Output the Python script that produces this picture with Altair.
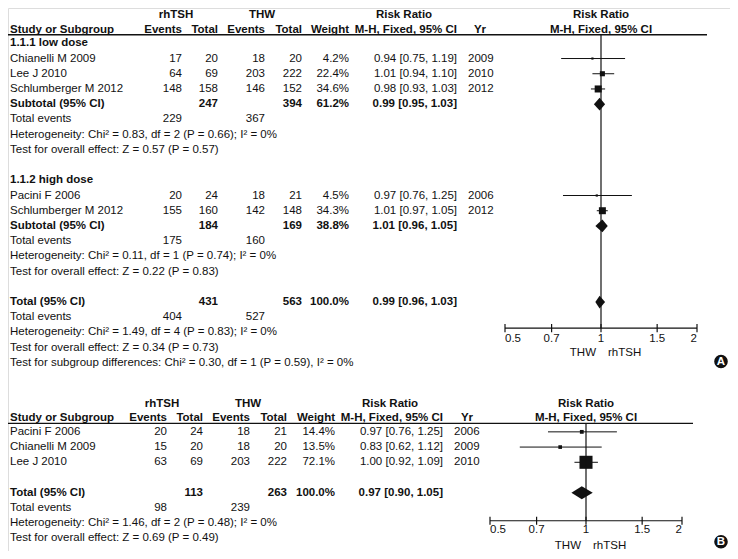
import altair as alt
import pandas as pd

FONT = "Liberation Sans"
FS = 11.5
INK = "#111111"

# ---------------- data: panel A ----------------
a_groups = ["1.1.1 low dose", "1.1.2 high dose"]
a_study = ["Chianelli M 2009", "Lee J 2010", "Schlumberger M 2012", "Pacini F 2006", "Schlumberger M 2012"]
a_ev_rh = [17, 64, 148, 20, 155]
a_tot_rh = [20, 69, 158, 24, 160]
a_ev_thw = [18, 203, 146, 18, 142]
a_tot_thw = [20, 222, 152, 21, 148]
a_weight = [4.2, 22.4, 34.6, 4.5, 34.3]
a_rr = [0.94, 1.01, 0.98, 0.97, 1.01]
a_lo = [0.75, 0.94, 0.93, 0.76, 0.97]
a_hi = [1.19, 1.10, 1.03, 1.25, 1.05]
a_year = [2009, 2010, 2012, 2006, 2012]

a_sum_label = ["Subtotal (95% CI)", "Subtotal (95% CI)", "Total (95% CI)"]
a_sum_tot_rh = [247, 184, 431]
a_sum_tot_thw = [394, 169, 563]
a_sum_weight = [61.2, 38.8, 100.0]
a_sum_rr = [0.99, 1.01, 0.99]
a_sum_lo = [0.95, 0.96, 0.96]
a_sum_hi = [1.03, 1.05, 1.03]
a_sum_ev_rh = [229, 175, 404]
a_sum_ev_thw = [367, 160, 527]
a_het = ["Heterogeneity: Chi\u00b2 = 0.83, df = 2 (P = 0.66); I\u00b2 = 0%",
         "Heterogeneity: Chi\u00b2 = 0.11, df = 1 (P = 0.74); I\u00b2 = 0%",
         "Heterogeneity: Chi\u00b2 = 1.49, df = 4 (P = 0.83); I\u00b2 = 0%"]
a_effect = ["Test for overall effect: Z = 0.57 (P = 0.57)",
            "Test for overall effect: Z = 0.22 (P = 0.83)",
            "Test for overall effect: Z = 0.34 (P = 0.73)"]
a_subgroup_test = "Test for subgroup differences: Chi\u00b2 = 0.30, df = 1 (P = 0.59), I\u00b2 = 0%"

# ---------------- data: panel B ----------------
b_study = ["Pacini F 2006", "Chianelli M 2009", "Lee J 2010"]
b_ev_rh = [20, 15, 63]
b_tot_rh = [24, 20, 69]
b_ev_thw = [18, 18, 203]
b_tot_thw = [21, 20, 222]
b_weight = [14.4, 13.5, 72.1]
b_rr = [0.97, 0.83, 1.00]
b_lo = [0.76, 0.62, 0.92]
b_hi = [1.25, 1.12, 1.09]
b_year = [2006, 2009, 2010]

b_sum_label = ["Total (95% CI)"]
b_sum_tot_rh = [113]
b_sum_tot_thw = [263]
b_sum_weight = [100.0]
b_sum_rr = [0.97]
b_sum_lo = [0.90]
b_sum_hi = [1.05]
b_sum_ev_rh = [98]
b_sum_ev_thw = [239]
b_het = ["Heterogeneity: Chi\u00b2 = 1.46, df = 2 (P = 0.48); I\u00b2 = 0%"]
b_effect = ["Test for overall effect: Z = 0.69 (P = 0.49)"]

axis_ticks = [0.5, 0.7, 1, 1.5, 2]
axis_tick_labels = ["0.5", "0.7", "1", "1.5", "2"]

# ---------------- layout ----------------
W, H = 722, 543
yscale = alt.Scale(domain=[-1.86, 33.03], range=[7, 538], zero=False, nice=False)

PANELS = {
    "A": dict(
        off=0.0, xr=[497, 689], rule_x2=699,
        c=dict(name=2, rh_c=168, thw_c=254, ev_rh=174, tot_rh=210, ev_thw=257,
               tot_thw=294, wt=341, rr_c=396, rr=449, yr_c=472, yr=460),
        study_rows=[1, 2, 3, 10, 11], group_rows=[0, 9], sum_rows=[4, 12, 17],
        axis_row=18.71, lab_row=19.45, side_row=20.33, badge_row=20.91, letter="A",
        study=a_study, ev_rh=a_ev_rh, tot_rh=a_tot_rh, ev_thw=a_ev_thw, tot_thw=a_tot_thw,
        weight=a_weight, rr=a_rr, lo=a_lo, hi=a_hi, year=a_year,
        sum_label=a_sum_label, sum_tot_rh=a_sum_tot_rh, sum_tot_thw=a_sum_tot_thw,
        sum_weight=a_sum_weight, sum_rr=a_sum_rr, sum_lo=a_sum_lo, sum_hi=a_sum_hi,
        sum_ev_rh=a_sum_ev_rh, sum_ev_thw=a_sum_ev_thw, het=a_het, effect=a_effect,
        groups=a_groups,
    ),
    "B": dict(
        off=25.53, xr=[482, 674], rule_x2=685,
        c=dict(name=2, rh_c=154, thw_c=240, ev_rh=159, tot_rh=195, ev_thw=242,
               tot_thw=279, wt=327, rr_c=382, rr=435, yr_c=459, yr=446),
        study_rows=[0, 1, 2], group_rows=[], sum_rows=[4],
        axis_row=31.37 - 25.53, lab_row=32.0 - 25.53, side_row=33.01 - 25.53,
        badge_row=32.75 - 25.53, letter="B",
        study=b_study, ev_rh=b_ev_rh, tot_rh=b_tot_rh, ev_thw=b_ev_thw, tot_thw=b_tot_thw,
        weight=b_weight, rr=b_rr, lo=b_lo, hi=b_hi, year=b_year,
        sum_label=b_sum_label, sum_tot_rh=b_sum_tot_rh, sum_tot_thw=b_sum_tot_thw,
        sum_weight=b_sum_weight, sum_rr=b_sum_rr, sum_lo=b_sum_lo, sum_hi=b_sum_hi,
        sum_ev_rh=b_sum_ev_rh, sum_ev_thw=b_sum_ev_thw, het=b_het, effect=b_effect,
        groups=[],
    ),
}

HDR1, HDR2, RULE = -1.86, -0.90, -0.56


def rrtxt(r, l, h):
    return f"{r:.2f} [{l:.2f}, {h:.2f}]"


texts = []


def add(text, row, x, align, bold=False):
    texts.append(dict(text=str(text), row=row, x=x, align=align, bold=bold))


layers = []

for key, p in PANELS.items():
    o = p["off"]
    c = p["c"]
    # headers
    add("rhTSH", o + HDR1, c["rh_c"], "center", True)
    add("THW", o + HDR1, c["thw_c"], "center", True)
    add("Risk Ratio", o + HDR1, c["rr_c"], "center", True)
    add("Study or Subgroup", o + HDR2, c["name"], "left", True)
    add("Events", o + HDR2, c["ev_rh"], "right", True)
    add("Total", o + HDR2, c["tot_rh"], "right", True)
    add("Events", o + HDR2, c["ev_thw"], "right", True)
    add("Total", o + HDR2, c["tot_thw"], "right", True)
    add("Weight", o + HDR2, c["wt"], "right", True)
    add("M-H, Fixed, 95% CI", o + HDR2, c["rr"], "right", True)
    add("Yr", o + HDR2, c["yr_c"], "center", True)
    for g, r in zip(p["groups"], p["group_rows"]):
        add(g, o + r, c["name"], "left", True)
    for i, r in enumerate(p["study_rows"]):
        rr = o + r
        add(p["study"][i], rr, c["name"], "left")
        add(p["ev_rh"][i], rr, c["ev_rh"], "right")
        add(p["tot_rh"][i], rr, c["tot_rh"], "right")
        add(p["ev_thw"][i], rr, c["ev_thw"], "right")
        add(p["tot_thw"][i], rr, c["tot_thw"], "right")
        add(f"{p['weight'][i]:.1f}%", rr, c["wt"], "right")
        add(rrtxt(p["rr"][i], p["lo"][i], p["hi"][i]), rr, c["rr"], "right")
        add(p["year"][i], rr, c["yr"], "left")
    for i, r in enumerate(p["sum_rows"]):
        rr = o + r
        add(p["sum_label"][i], rr, c["name"], "left", True)
        add(p["sum_tot_rh"][i], rr, c["tot_rh"], "right", True)
        add(p["sum_tot_thw"][i], rr, c["tot_thw"], "right", True)
        add(f"{p['sum_weight'][i]:.1f}%", rr, c["wt"], "right", True)
        add(rrtxt(p["sum_rr"][i], p["sum_lo"][i], p["sum_hi"][i]), rr, c["rr"], "right", True)
        add("Total events", rr + 1, c["name"], "left")
        add(p["sum_ev_rh"][i], rr + 1, c["ev_rh"], "right")
        add(p["sum_ev_thw"][i], rr + 1, c["ev_thw"], "right")
        add(p["het"][i], rr + 2, c["name"], "left")
        add(p["effect"][i], rr + 3, c["name"], "left")
    if key == "A":
        add(a_subgroup_test, o + 21, c["name"], "left")

    # ---- forest part ----
    xs = alt.Scale(type="log", domain=[0.5, 2], range=p["xr"], nice=False)
    st = pd.DataFrame(dict(est=p["rr"], lo=p["lo"], hi=p["hi"], weight=p["weight"],
                           row=[o + r for r in p["study_rows"]]))
    Y = alt.Y("row:Q", scale=yscale, axis=None)
    layers.append(alt.Chart(st).mark_rule(color=INK, strokeWidth=1).encode(
        x=alt.X("lo:Q", scale=xs, axis=None), x2="hi:Q", y=Y))
    layers.append(alt.Chart(st).mark_square(color=INK, filled=True, opacity=1).encode(
        x=alt.X("est:Q", scale=xs, axis=None), y=Y,
        size=alt.Size("sz:Q", scale=None, legend=None)
    ).transform_calculate(sz="pow(1.5 + 0.16 * datum.weight, 2)"))
    # diamonds
    dh = 0.42
    drows = []
    for i, r in enumerate(p["sum_rows"]):
        rr = o + r
        drows += [dict(id=i, x=p["sum_lo"][i], y=rr, y2=rr),
                  dict(id=i, x=p["sum_rr"][i], y=rr - dh, y2=rr + dh),
                  dict(id=i, x=p["sum_hi"][i], y=rr, y2=rr)]
    layers.append(alt.Chart(pd.DataFrame(drows)).mark_area(color=INK, orient="vertical", opacity=1).encode(
        x=alt.X("x:Q", scale=xs, axis=None), y=alt.Y("y:Q", scale=yscale, axis=None), y2="y2:Q",
        detail="id:N"))
    # null line
    nl = pd.DataFrame(dict(x=[1.0], y=[o + RULE], y2=[o + p["axis_row"]]))
    layers.append(alt.Chart(nl).mark_rule(color=INK, strokeWidth=1.2).encode(
        x=alt.X("x:Q", scale=xs, axis=None), y=alt.Y("y:Q", scale=yscale, axis=None), y2="y2:Q"))
    # axis line + ticks
    al = pd.DataFrame(dict(x=[axis_ticks[0]], x2=[axis_ticks[-1]], y=[o + p["axis_row"]]))
    layers.append(alt.Chart(al).mark_rule(color=INK, strokeWidth=1.2).encode(
        x=alt.X("x:Q", scale=xs, axis=None), x2="x2:Q", y=alt.Y("y:Q", scale=yscale, axis=None)))
    tk = pd.DataFrame(dict(x=axis_ticks, lab=axis_tick_labels,
                           y=[o + p["axis_row"] - 0.27] * 5, y2=[o + p["axis_row"] + 0.27] * 5,
                           ly=[o + p["lab_row"]] * 5, pos=[0, 1, 1, 1, 2]))
    layers.append(alt.Chart(tk).mark_rule(color=INK, strokeWidth=1.2).encode(
        x=alt.X("x:Q", scale=xs, axis=None), y=alt.Y("y:Q", scale=yscale, axis=None), y2="y2:Q"))
    for pos, al_ in [(0, "left"), (1, "center"), (2, "right")]:
        layers.append(alt.Chart(tk).transform_filter(f"datum.pos == {pos}").mark_text(
            align=al_, baseline="middle", font=FONT, fontSize=FS, color=INK).encode(
            x=alt.X("x:Q", scale=xs, axis=None), y=alt.Y("ly:Q", scale=yscale, axis=None), text="lab:N"))
    # forest headers and side labels
    fh = pd.DataFrame(dict(x=[1.0, 1.0], y=[o + HDR1, o + HDR2], t=["Risk Ratio", "M-H, Fixed, 95% CI"]))
    layers.append(alt.Chart(fh).mark_text(align="center", baseline="middle", font=FONT, fontSize=FS,
                                          fontWeight="bold", color=INK).encode(
        x=alt.X("x:Q", scale=xs, axis=None), y=alt.Y("y:Q", scale=yscale, axis=None), text="t:N"))
    sd = pd.DataFrame(dict(x=[1.0], y=[o + p["side_row"]], l=["THW"], r=["rhTSH"]))
    layers.append(alt.Chart(sd).mark_text(align="right", dx=-5, baseline="middle", font=FONT,
                                          fontSize=FS, color=INK).encode(
        x=alt.X("x:Q", scale=xs, axis=None), y=alt.Y("y:Q", scale=yscale, axis=None), text="l:N"))
    layers.append(alt.Chart(sd).mark_text(align="left", dx=7, baseline="middle", font=FONT,
                                          fontSize=FS, color=INK).encode(
        x=alt.X("x:Q", scale=xs, axis=None), y=alt.Y("y:Q", scale=yscale, axis=None), text="r:N"))
    # header underline
    hr = pd.DataFrame(dict(y=[o + RULE]))
    layers.append(alt.Chart(hr).mark_rule(color=INK, strokeWidth=1.4).encode(
        x=alt.value(0), x2=alt.value(p["rule_x2"]), y=alt.Y("y:Q", scale=yscale, axis=None)))
    # panel badge
    bd = pd.DataFrame(dict(y=[o + p["badge_row"]], t=[p["letter"]]))
    layers.append(alt.Chart(bd).mark_point(shape="circle", filled=True, color=INK, opacity=1, size=185).encode(
        x=alt.value(713), y=alt.Y("y:Q", scale=yscale, axis=None)))
    layers.append(alt.Chart(bd).mark_text(align="center", baseline="middle", font=FONT, fontSize=11.5,
                                          fontWeight="bold", color="white", dy=0.5).encode(
        x=alt.value(713), y=alt.Y("y:Q", scale=yscale, axis=None), text="t:N"))

tdf = pd.DataFrame(texts)
for al_ in ["left", "center", "right"]:
    for bold in [False, True]:
        sub = tdf[(tdf["align"] == al_) & (tdf["bold"] == bold)]
        if len(sub) == 0:
            continue
        layers.append(alt.Chart(sub).mark_text(
            align=al_, baseline="middle", font=FONT, fontSize=FS,
            fontWeight="bold" if bold else "normal", color=INK).encode(
            x=alt.X("x:Q", scale=None, axis=None),
            y=alt.Y("row:Q", scale=yscale, axis=None),
            text="text:N"))

chart = alt.layer(*layers).resolve_scale(x="independent").properties(
    width=W, height=H, padding=0,
    autosize=alt.AutoSizeParams(type="none"),
).configure_view(stroke=None).configure(background="white")

chart.save("out.html", embed_options={"renderer": "svg", "actions": False})
